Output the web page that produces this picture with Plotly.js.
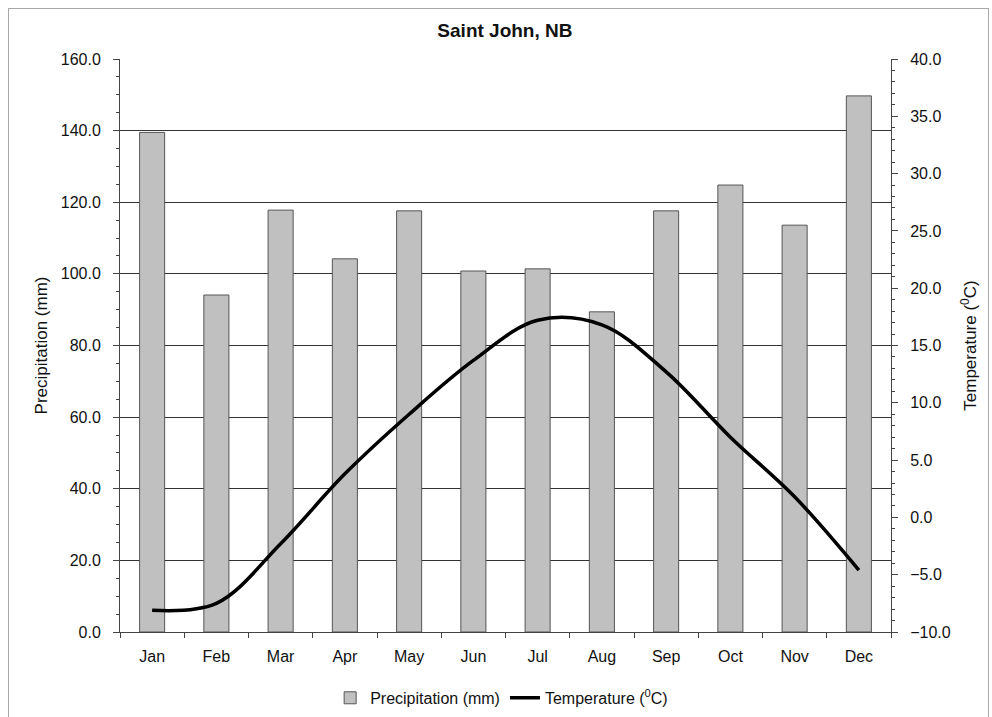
<!DOCTYPE html>
<html>
<head>
<meta charset="utf-8">
<script src="https://cdn.plot.ly/plotly-3.0.1.min.js"></script>
<style>
  html, body { margin: 0; padding: 0; background: #fff; }
  #frame { position: absolute; left: 8px; top: 8px; width: 981px; height: 720px; border: 1.5px solid #a8a8a8; border-bottom: none; box-sizing: border-box; pointer-events: none; z-index: 2; }
  #chart { position: absolute; left: 0; top: 0; width: 992px; height: 717px; }
</style>
</head>
<body>
<div id="chart"></div>
<div id="frame"></div>
<script>
const months = ["Jan","Feb","Mar","Apr","May","Jun","Jul","Aug","Sep","Oct","Nov","Dec"];
const precipitation = [139.5, 94.1, 117.8, 104.2, 117.6, 100.8, 101.4, 89.4, 117.6, 124.8, 113.6, 149.7];
const temperature = [-8.1, -7.5, -2.3, 3.8, 9.0, 13.7, 17.2, 16.8, 12.7, 7.0, 1.8, -4.6];
const titleText = "Saint John, NB";
const precipName = "Precipitation (mm)";
const tempName = "Temperature (<sup>0</sup>C)";

const font = "Liberation Sans, Arial, sans-serif";

const traces = [
  {
    type: "bar",
    x: months,
    y: precipitation,
    name: precipName,
    width: 0.39,
    marker: { color: "#c0c0c0", line: { color: "#555555", width: 1 } },
    yaxis: "y",
    hoverinfo: "skip"
  },
  {
    type: "scatter",
    mode: "lines",
    x: months,
    y: temperature,
    name: tempName,
    line: { color: "#000000", width: 3.5, shape: "spline", smoothing: 1 },
    yaxis: "y2",
    hoverinfo: "skip"
  }
];

const layout = {
  width: 992,
  height: 717,
  paper_bgcolor: "#ffffff",
  plot_bgcolor: "#ffffff",
  font: { family: font, size: 16, color: "#111" },
  margin: { l: 120, r: 101, t: 59, b: 85, autoexpand: false },
  title: {
    text: "<b>" + titleText + "</b>",
    x: 0.509, xanchor: "center",
    y: 1 - 30 / 717, yanchor: "middle",
    font: { family: font, size: 19, color: "#111" }
  },
  showlegend: true,
  legend: {
    orientation: "h",
    x: 0.495, xanchor: "center",
    y: -0.115, yanchor: "middle",
    font: { family: font, size: 16, color: "#111" },
    itemwidth: 30,
    traceorder: "normal"
  },
  xaxis: {
    type: "category",
    range: [-0.5, 11.5],
    showline: true, linecolor: "#444", linewidth: 1,
    ticks: "outside", ticklen: 5, tickcolor: "#444",
    tickson: "boundaries",
    showgrid: false,
    tickfont: { family: font, size: 16, color: "#111" },
    ticklabelstandoff: 10,
    automargin: false,
    fixedrange: true
  },
  yaxis: {
    range: [0, 160],
    dtick: 20, tick0: 0,
    tickformat: ".1f",
    showline: true, linecolor: "#444", linewidth: 1,
    ticks: "outside", ticklen: 6, tickcolor: "#444",
    minor: { dtick: 5, ticks: "outside", ticklen: 3, tickcolor: "#444", showgrid: false },
    showgrid: true, gridcolor: "#333", gridwidth: 1,
    zeroline: false,
    tickfont: { family: font, size: 16, color: "#111" },
    ticklabelstandoff: 9,
    title: { text: precipName, font: { family: font, size: 17, color: "#111" }, standoff: 8 },
    automargin: false,
    fixedrange: true
  },
  yaxis2: {
    overlaying: "y",
    side: "right",
    range: [-10, 40],
    dtick: 5, tick0: -10,
    tickformat: ".1f",
    showline: true, linecolor: "#444", linewidth: 1,
    ticks: "outside", ticklen: 6, tickcolor: "#444",
    minor: { dtick: 1, ticks: "outside", ticklen: 3, tickcolor: "#444", showgrid: false },
    showgrid: false,
    zeroline: false,
    tickfont: { family: font, size: 16, color: "#111" },
    ticklabelstandoff: 9,
    title: { text: tempName, font: { family: font, size: 17, color: "#111" }, standoff: 14 },
    automargin: false,
    fixedrange: true
  },
  bargap: 0.61
};

Plotly.newPlot("chart", traces, layout, { staticPlot: true, displayModeBar: false });
</script>
</body>
</html>
